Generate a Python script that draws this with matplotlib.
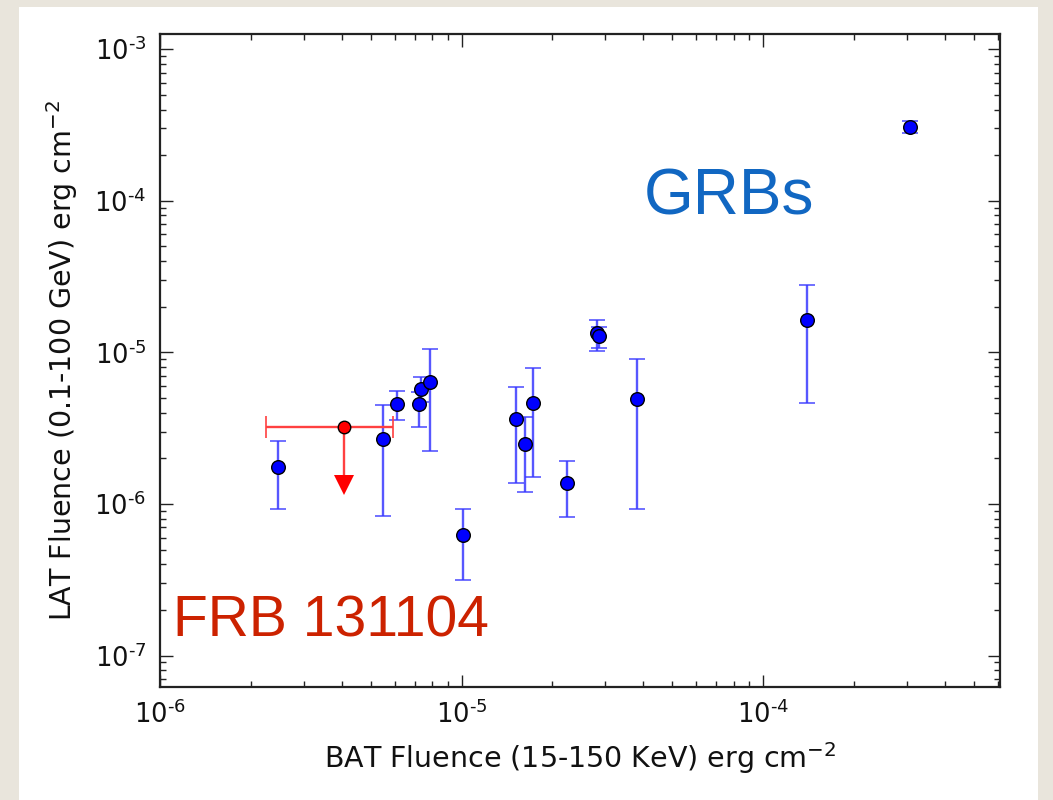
import matplotlib
matplotlib.use("Agg")
import matplotlib.pyplot as plt
from matplotlib.patches import Rectangle
from matplotlib.ticker import LogLocator, FuncFormatter, NullFormatter, FixedLocator
import numpy as np

plt.rcParams['font.family'] = ['DejaVu Sans']
plt.rcParams['mathtext.fontset'] = 'dejavusans'
plt.rcParams['axes.unicode_minus'] = False
plt.rcParams['mathtext.default'] = 'regular'

# GRB data (BAT fluence vs LAT fluence)
bat_fluence = [2.46e-6, 5.49e-6, 6.1e-6, 7.23e-6, 7.34e-6, 7.86e-6, 1.01e-5, 1.52e-5,
               1.62e-5, 1.72e-5, 2.23e-5, 2.82e-5, 2.86e-5, 3.83e-5, 1.40e-4, 3.08e-4]
lat_fluence = [1.75e-6, 2.68e-6, 4.55e-6, 4.55e-6, 5.72e-6, 6.36e-6, 6.22e-7, 3.62e-6,
               2.48e-6, 4.65e-6, 1.37e-6, 1.35e-5, 1.28e-5, 4.93e-6, 1.63e-5, 3.07e-4]
lat_upper = [2.6e-6, 4.48e-6, 5.55e-6, 5.46e-6, 6.86e-6, 1.05e-5, 9.2e-7, 5.9e-6,
             3.76e-6, 7.87e-6, 1.92e-6, 1.63e-5, 1.47e-5, 8.98e-6, 2.79e-5, 3.37e-4]
lat_lower = [9.2e-7, 8.3e-7, 3.57e-6, 3.21e-6, 4.7e-6, 2.23e-6, 3.14e-7, 1.38e-6,
             1.2e-6, 1.5e-6, 8.15e-7, 1.02e-5, 1.07e-5, 9.2e-7, 4.64e-6, 2.78e-4]

# FRB 131104 upper limit
frb_bat = 4.07e-6
frb_bat_lo = 2.25e-6
frb_bat_hi = 5.93e-6
frb_lat = 3.21e-6
frb_lat_limit = 1.33e-6

x_ticks = [1e-6, 1e-5, 1e-4]
y_ticks = [1e-7, 1e-6, 1e-5, 1e-4, 1e-3]

fig = plt.figure(figsize=(10.53, 8.0), dpi=100)
fig.patch.set_facecolor('#e9e5dc')
fig.patches.append(Rectangle((19/1053, 0), (1038-19)/1053, (800-7)/800,
                             transform=fig.transFigure, facecolor='white',
                             edgecolor='none', zorder=-10))

ax = fig.add_axes([160/1053, (800-687)/800, 840/1053, 653/800])
ax.set_zorder(1)
ax.set_facecolor('white')
ax.set_xscale('log')
ax.set_yscale('log')

bx = np.array(bat_fluence)
ly = np.array(lat_fluence)
yerr = np.vstack([ly - np.array(lat_lower), np.array(lat_upper) - ly])
ax.errorbar(bx, ly, yerr=yerr, fmt='none', ecolor='#3a3aff', elinewidth=1.7,
            capsize=5.5, capthick=1.2, alpha=0.85, zorder=2)
ax.plot(bx, ly, 'o', color='#0000ff', markeredgecolor='black', markeredgewidth=1.0,
        markersize=9.8, zorder=3)

# FRB
ax.errorbar([frb_bat], [frb_lat],
            xerr=[[frb_bat - frb_bat_lo], [frb_bat_hi - frb_bat]],
            fmt='none', ecolor='#ff4040', elinewidth=1.7, capsize=8, capthick=1.2,
            zorder=2)
ax.plot([frb_bat, frb_bat], [frb_lat, frb_lat_limit], color='#ff4040', lw=1.7, zorder=2)
ax.plot([frb_bat], [frb_lat_limit], 'v', color='#ff0000', markersize=14,
        markeredgewidth=0, zorder=3)
ax.plot([frb_bat], [frb_lat], 'o', color='#ff0000', markeredgecolor='black',
        markeredgewidth=1.0, markersize=9, zorder=4)

ax.set_xlim(1e-6, 6.1e-4)
ax.set_ylim(6.2e-8, 1.26e-3)

def fmt(v, pos):
    e = int(np.round(np.log10(v)))
    return r'$10^{\text{-}%d}$' % abs(e)

for axis, ticks in ((ax.xaxis, x_ticks), (ax.yaxis, y_ticks)):
    axis.set_major_locator(FixedLocator(ticks))
    axis.set_major_formatter(FuncFormatter(fmt))
    axis.set_minor_locator(LogLocator(base=10, subs=np.arange(2, 10), numticks=20))
    axis.set_minor_formatter(NullFormatter())

ax.tick_params(which='both', direction='in', top=True, right=True, labelsize=18.5,
               width=1.0, colors='#222222', labelcolor='#111111')
ax.tick_params(which='major', length=9, pad=10)
ax.tick_params(which='minor', length=4.5)
for s in ax.spines.values():
    s.set_linewidth(1.6)
    s.set_color('#222222')

ax.set_xlabel(r'BAT Fluence (15-150 KeV) erg cm$^{-2}$', fontsize=20.5, labelpad=8,
              color='#111111')
ax.set_ylabel(r'LAT Fluence (0.1-100 GeV) erg cm$^{-2}$', fontsize=20.5, labelpad=10,
              color='#111111')

ax.text(0.576, 0.724, 'GRBs', transform=ax.transAxes, fontsize=46, color='#1167c2',
        family='Liberation Sans', va='baseline', ha='left')
ax.text(0.0155, 0.0766, 'FRB 131104', transform=ax.transAxes, fontsize=41,
        color='#cc2200', family='Liberation Sans', va='baseline', ha='left')

fig.savefig('out.png', dpi=100, facecolor=fig.get_facecolor())
